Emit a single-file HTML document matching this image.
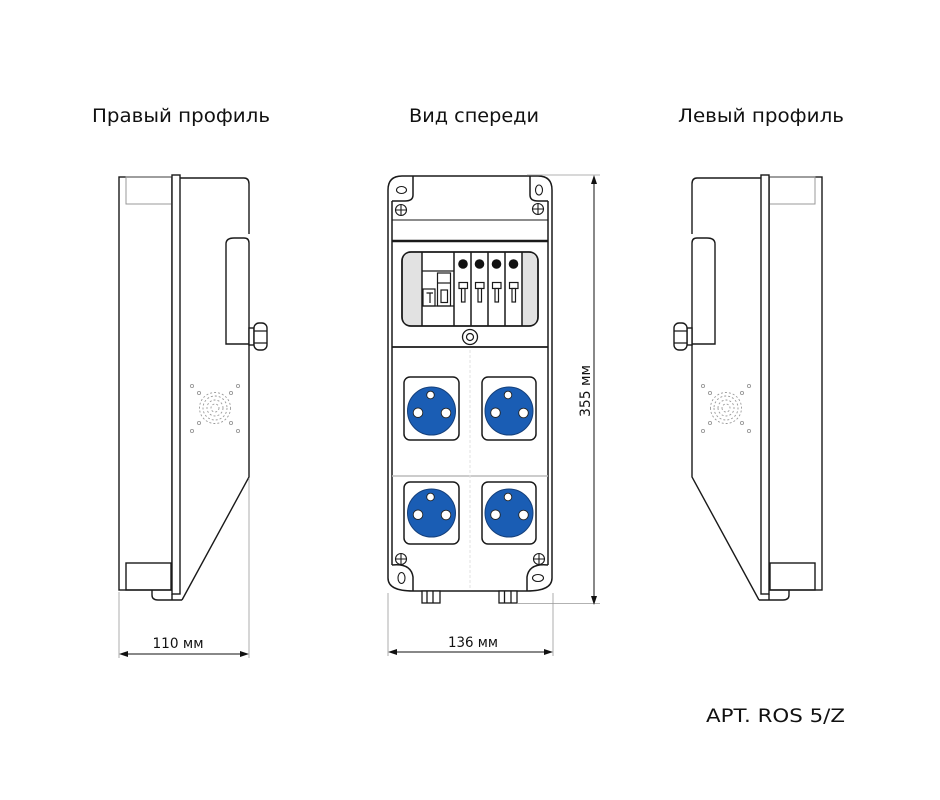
<!DOCTYPE html>
<html><head><meta charset="utf-8"><style>
html,body{margin:0;padding:0;background:#fff;}
svg{display:block;}
text{font-family:"DejaVu Sans","Liberation Sans",sans-serif;fill:#111;}
</style></head><body>
<svg width="940" height="800" viewBox="0 0 940 800" xmlns="http://www.w3.org/2000/svg">
<rect width="940" height="800" fill="#fff"/>

<!-- Titles -->
<text x="92" y="122" font-size="19" textLength="178" lengthAdjust="spacingAndGlyphs">Правый профиль</text>
<text x="409" y="122" font-size="19" textLength="130" lengthAdjust="spacingAndGlyphs">Вид спереди</text>
<text x="678" y="122" font-size="19" textLength="166" lengthAdjust="spacingAndGlyphs">Левый профиль</text>
<text x="706" y="722" font-size="19" textLength="139" lengthAdjust="spacingAndGlyphs">APT. ROS 5/Z</text>

<defs>
<g id="prof" fill="none" stroke="#1a1a1a" stroke-width="1.4">
  <rect x="119" y="177" width="53" height="413" fill="#fff"/>
  <rect x="126" y="177" width="46" height="27" stroke="#999" stroke-width="1"/>
  <rect x="126" y="563" width="45" height="27"/>
  <rect x="172" y="175" width="8" height="419" fill="#fff"/>
  <path d="M180,178 L244,178 Q249,178 249,184 L249,234"/>
  <path d="M226,344 L226,244 Q226,238 234,238 L244,238 Q249,238 249,243 L249,344 Z" fill="#fff"/>
  <path d="M249,344 L249,477 L182,600"/>
  <rect x="249" y="328" width="5" height="17" fill="#fff"/>
  <rect x="254" y="323" width="13" height="27" rx="5" fill="#fff"/>
  <path d="M254,331 H267 M254,343 H267" stroke-width="1.2"/>
  <path d="M152,590 L152,595 Q152,600 158,600 L182,600 M172,594 L172,600"/>
  <g stroke="#9a9a9a" stroke-width="0.9">
    <circle cx="192" cy="386" r="1.6"/><circle cx="238" cy="386" r="1.6"/>
    <circle cx="192" cy="431" r="1.6"/><circle cx="238" cy="431" r="1.6"/>
    <circle cx="199" cy="393" r="1.6"/><circle cx="231" cy="393" r="1.6"/>
    <circle cx="199" cy="423" r="1.6"/><circle cx="231" cy="423" r="1.6"/>
    <circle cx="215" cy="408" r="4" stroke-dasharray="2 2"/>
    <circle cx="215" cy="408" r="8" stroke-dasharray="2 2"/>
    <circle cx="215" cy="408" r="12" stroke-dasharray="2 2"/>
    <circle cx="215" cy="408" r="15.5" stroke-dasharray="2 2"/>
  </g>
</g>
</defs>

<use href="#prof"/>
<use href="#prof" transform="translate(941,0) scale(-1,1)"/>

<!-- 110 mm dimension -->
<g stroke="#999" stroke-width="0.8" fill="none">
  <path d="M119,592 V658 M249,478 V658"/>
</g>
<path d="M123,654 H245" stroke="#111" stroke-width="1"/>
<polygon points="119,654 128,651 128,657" fill="#111"/>
<polygon points="249,654 240,651 240,657" fill="#111"/>
<text x="178" y="648" font-size="14" text-anchor="middle" textLength="51" lengthAdjust="spacingAndGlyphs">110 мм</text>

<!-- Front view -->
<g fill="none" stroke="#1a1a1a" stroke-width="1.5">
  <path d="M388,190 Q388,176 402,176 L538,176 Q552,176 552,190 L552,578 Q552,591 527,591 L413,591 Q388,591 388,578 Z" fill="#fff"/>
  <path d="M413,176 V195 Q413,201 405,201 L392,201 M530,176 V195 Q530,201 538,201 L548,201"/>
  <path d="M392,201 V565 M548,201 V565"/>
  <path d="M392,220 H548" stroke-width="1.1"/>
  <path d="M392,241 H548" stroke-width="2.5"/>
  <path d="M392,347 H548" stroke-width="1.8"/>
  <path d="M392,476 H548" stroke="#bbb" stroke-width="1.5"/>
  <path d="M470,350 V588" stroke="#e2e2e2" stroke-width="1" stroke-dasharray="3 2"/>
  <path d="M392,565 Q411,563 413,577 V591 M548,565 Q529,563 527,577 V591"/>

  <!-- ears -->
  <ellipse cx="401.5" cy="190" rx="5" ry="3.5" stroke-width="1.1"/>
  <ellipse cx="539" cy="190" rx="3.5" ry="5" stroke-width="1.1"/>
  <ellipse cx="401.5" cy="578" rx="3.5" ry="5.5" stroke-width="1.1"/>
  <ellipse cx="538" cy="578" rx="5.5" ry="3.5" stroke-width="1.1"/>
  <g stroke-width="1.1">
    <circle cx="401" cy="210" r="5.5"/><path d="M395.5,210 H406.5 M401,204.5 V215.5"/>
    <circle cx="538" cy="209" r="5.5"/><path d="M532.5,209 H543.5 M538,203.5 V214.5"/>
    <circle cx="401" cy="559" r="5.5"/><path d="M395.5,559 H406.5 M401,553.5 V564.5"/>
    <circle cx="539" cy="559" r="5.5"/><path d="M533.5,559 H544.5 M539,553.5 V564.5"/>
  </g>

  <!-- breaker panel -->
  <rect x="402" y="252" width="136" height="74" rx="9" fill="#fff" stroke-width="1.8"/>
  <path d="M422,253 H411 Q403,253 403,261 V317 Q403,325 411,325 H422 Z" fill="#e2e2e2" stroke="none"/>
  <path d="M522,253 H529 Q537,253 537,261 V317 Q537,325 529,325 H522 Z" fill="#e2e2e2" stroke="none"/>
  <path d="M422,252 V326 M454,252 V326 M471,252 V326 M488,252 V326 M505,252 V326 M522,252 V326"/>
  <path d="M422,271 H454 M422,306 H454" stroke-width="1.2"/>
  <rect x="423" y="289" width="12" height="17" stroke-width="1.2"/>
  <path d="M426.5,293 H433 M430,293 V303" stroke-width="1.2"/>
  <rect x="437.5" y="273" width="13" height="33" stroke-width="1.2"/>
  <path d="M437.5,283 H450.5" stroke-width="1.2"/>
  <rect x="441" y="290" width="6.5" height="12.5" stroke-width="1.2"/>
  <g fill="#111" stroke="none">
    <circle cx="463" cy="264" r="4.8"/><circle cx="479.5" cy="264" r="4.8"/>
    <circle cx="496.5" cy="264" r="4.8"/><circle cx="513.5" cy="264" r="4.8"/>
  </g>
  <g stroke-width="1.2" fill="#fff">
    <rect x="459" y="282.5" width="8.5" height="6"/><rect x="461.5" y="288.5" width="3.5" height="13.5"/>
    <rect x="475.5" y="282.5" width="8.5" height="6"/><rect x="478" y="288.5" width="3.5" height="13.5"/>
    <rect x="492.5" y="282.5" width="8.5" height="6"/><rect x="495" y="288.5" width="3.5" height="13.5"/>
    <rect x="509.5" y="282.5" width="8.5" height="6"/><rect x="512" y="288.5" width="3.5" height="13.5"/>
  </g>
  <circle cx="470" cy="337" r="7.5" stroke-width="1.3"/>
  <circle cx="470" cy="337" r="3.5" stroke-width="1.2"/>

  <!-- sockets -->
  <rect x="404" y="377" width="55" height="63" rx="6" fill="#fff"/>
  <rect x="482" y="377" width="54" height="63" rx="6" fill="#fff"/>
  <rect x="404" y="482" width="55" height="62" rx="6" fill="#fff"/>
  <rect x="482" y="482" width="54" height="62" rx="6" fill="#fff"/>
  <g fill="#1a5db4" stroke="#143f7a" stroke-width="1">
    <circle cx="431.5" cy="411" r="24"/><circle cx="509" cy="411" r="24"/>
    <circle cx="431.5" cy="513" r="24"/><circle cx="509" cy="513" r="24"/>
  </g>
  <g fill="#fff" stroke="#222" stroke-width="0.9">
    <circle cx="430.5" cy="395" r="3.8"/><circle cx="418" cy="412.7" r="4.8"/><circle cx="446" cy="413" r="4.8"/>
    <circle cx="508" cy="395" r="3.8"/><circle cx="495.5" cy="412.7" r="4.8"/><circle cx="523.5" cy="413" r="4.8"/>
    <circle cx="430.5" cy="497" r="3.8"/><circle cx="418" cy="514.7" r="4.8"/><circle cx="446" cy="515" r="4.8"/>
    <circle cx="508" cy="497" r="3.8"/><circle cx="495.5" cy="514.7" r="4.8"/><circle cx="523.5" cy="515" r="4.8"/>
  </g>

  <!-- feet -->
  <g stroke-width="1.3">
    <rect x="422" y="591" width="18" height="12" fill="#fff"/>
    <path d="M427,591 V603 M433,591 V603"/>
    <rect x="499" y="591" width="18" height="12" fill="#fff"/>
    <path d="M504.5,591 V603 M511,591 V603"/>
  </g>
</g>

<!-- 136 mm dimension -->
<g stroke="#999" stroke-width="0.8" fill="none">
  <path d="M388,593 V656 M553,593 V656"/>
</g>
<path d="M392,652 H549" stroke="#111" stroke-width="1"/>
<polygon points="388,652 397,649 397,655" fill="#111"/>
<polygon points="553,652 544,649 544,655" fill="#111"/>
<text x="473" y="647" font-size="14" text-anchor="middle" textLength="50" lengthAdjust="spacingAndGlyphs">136 мм</text>

<!-- 355 mm dimension -->
<g stroke="#999" stroke-width="0.8" fill="none">
  <path d="M527,175 H600 M517,603.5 H600"/>
</g>
<path d="M594,179 V601" stroke="#111" stroke-width="1"/>
<polygon points="594,175 591,184 597,184" fill="#111"/>
<polygon points="594,605 591,596 597,596" fill="#111"/>
<text transform="translate(590,391) rotate(-90)" font-size="14" text-anchor="middle" textLength="52" lengthAdjust="spacingAndGlyphs">355 мм</text>
</svg>
</body></html>
